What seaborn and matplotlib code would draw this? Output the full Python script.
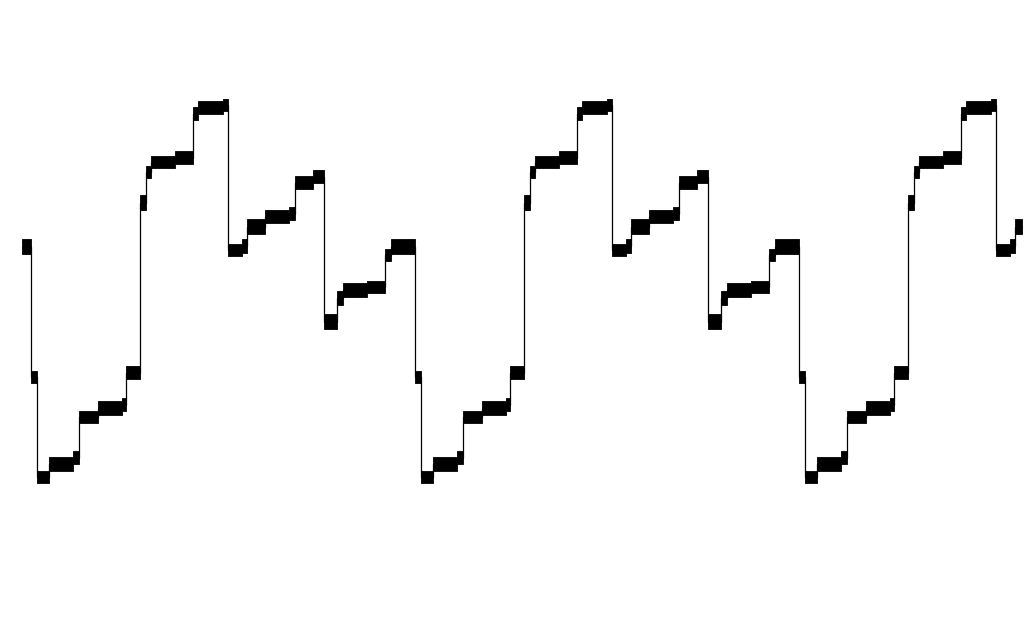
import numpy as np
import pandas as pd
import matplotlib
matplotlib.use("Agg")
import matplotlib.pyplot as plt
import seaborn as sns

# One period of the stepped waveform: duration of each plateau (samples)
durations = [6, 12, 24, 6, 19, 24, 4, 14, 6, 5, 24, 18, 5, 25,
             5, 14, 5, 18, 24, 6, 18, 11, 13, 6, 24, 18, 6, 24]
# Lower and upper edges of the jitter band on each plateau
band_low = [255, 155, 167, 174, 215, 223, 227, 259, 428, 460, 470, 474, 518, 524,
            527, 382, 385, 404, 415, 418, 449, 455, 309, 333, 341, 345, 377, 384]
band_high = [267, 167, 181, 187, 227, 237, 240, 272, 443, 472, 482, 487, 531, 537,
             539, 394, 399, 419, 428, 431, 462, 468, 324, 347, 355, 357, 389, 399]
n_periods = 3
lead_in = 9          # samples of the last plateau shown before the first period
total_len = 1000     # samples shown

# ---- build the series ----
starts, lows, highs = [0], [band_low[-1]], [band_high[-1]]
t = lead_in
for _ in range(n_periods):
    for d, lo, hi in zip(durations, band_low, band_high):
        if t >= total_len:
            break
        starts.append(t)
        lows.append(lo)
        highs.append(hi)
        t += d
edges = starts + [min(t, total_len)]
lows_e = lows + [lows[-1]]
highs_e = highs + [highs[-1]]
mids_e = [(a + b) / 2 for a, b in zip(lows_e, highs_e)]
df = pd.DataFrame({"t": edges, "v": mids_e})

sns.set_theme(style="white")
fig = plt.figure(figsize=(10.24, 6.38), dpi=100)
ax = fig.add_axes([0, 0, 1, 1])

ax.fill_between(edges, lows_e, highs_e, step="post", color="black",
                linewidth=0.6, edgecolor="black", antialiased=False)
sns.lineplot(data=df, x="t", y="v", ax=ax, color="black", linewidth=0.9,
             drawstyle="steps-post", estimator=None, sort=False)

ax.set_xlim(-22, 1002)
ax.set_ylim(0, 638)
ax.set_axis_off()
fig.savefig("out.png", dpi=100, facecolor="white")
